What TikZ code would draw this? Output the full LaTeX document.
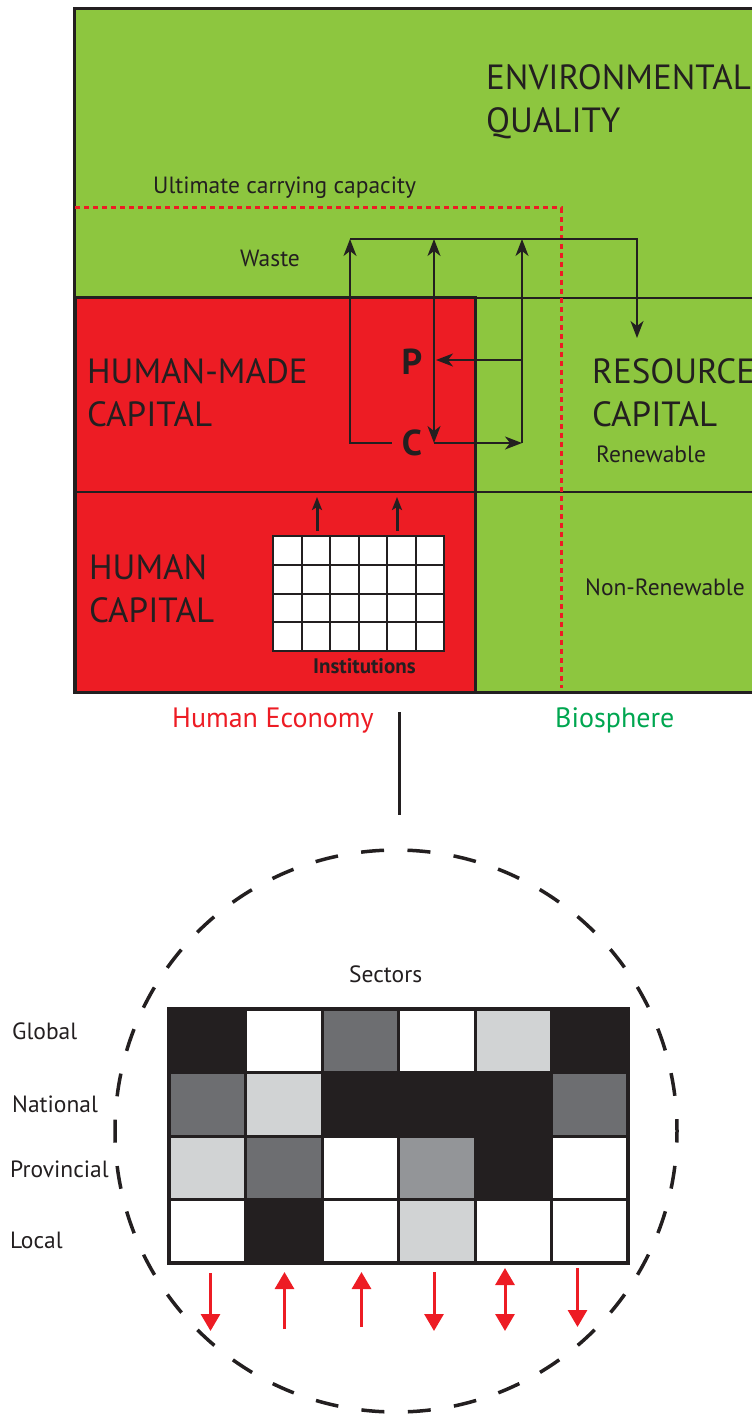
\documentclass[tikz,border=0pt]{standalone}
\usepackage{fontspec}
\setmainfont{PT Sans}
\usetikzlibrary{arrows.meta}
\definecolor{envgreen}{RGB}{141,198,63}
\definecolor{econred}{RGB}{237,28,36}
\definecolor{biogreen}{RGB}{0,166,80}
\definecolor{inkblack}{RGB}{35,31,32}
\definecolor{darkgrey}{RGB}{109,110,113}
\definecolor{midgrey}{RGB}{147,149,152}
\definecolor{lightgrey}{RGB}{209,211,212}
\tikzset{
  bigtext/.style={anchor=north west,inner sep=0pt,align=left,text=inkblack,font=\fontsize{35}{43}\selectfont},
  smalltext/.style={anchor=base west,inner sep=0pt,text=inkblack,font=\fontsize{23.5}{27}\selectfont},
  pctext/.style={inner sep=0pt,text=inkblack,font=\bfseries\fontsize{36}{36}\selectfont},
  flow/.style={draw=inkblack,line width=1.6pt,-{Stealth[length=17pt,width=13pt,inset=5pt]}},
  redarrow/.style={draw=econred,line width=3pt,-{Triangle[length=17pt,width=19pt]}}
}
\begin{document}
\begin{tikzpicture}[x=1pt,y=-1pt]
\useasboundingbox (0,0) rectangle (752,1414);
% environment and human economy
\fill[envgreen] (74,8) rectangle (760,692);
\draw[inkblack,line width=3pt] (760,8) -- (74,8) -- (74,692) -- (760,692);
\fill[econred] (75,297) rectangle (475,692);
\draw[inkblack,line width=3pt] (75,297) rectangle (475,692);
\draw[inkblack,line width=1.5pt] (475,298) -- (760,298);
\draw[inkblack,line width=2pt] (75,492) -- (760,492);
\draw[econred,line width=3pt,dash pattern=on 5pt off 4pt] (75,207.5) -- (561,207.5) -- (561,688);
\node[bigtext] (envq) at (486,64) {ENVIRONMENTAL\\QUALITY};
\node[bigtext] (hmcap) at (87,358) {HUMAN-MADE\\CAPITAL};
\node[bigtext] (hcap) at (89,554) {HUMAN\\CAPITAL};
\node[bigtext] (rescap) at (592,358) {RESOURCE\\CAPITAL};
\node[smalltext] (ucc) at (153,193) {Ultimate carrying capacity};
\node[smalltext] (waste) at (240,266) {Waste};
\node[smalltext] (renew) at (596,462) {Renewable};
\node[smalltext] (nonrenew) at (585,595) {Non-Renewable};
% production and consumption loop
\node[pctext] (P) at (412,362) {P};
\node[pctext] (C) at (412,443) {C};
\coordinate (w1) at (350,239);
\coordinate (w2) at (434,239);
\coordinate (w3) at (522,239);
\coordinate (w4) at (637,239);
\coordinate (r1) at (637,338);
\coordinate (c1) at (350,443);
\coordinate (c2) at (434,443);
\coordinate (c3) at (522,443);
\coordinate (p2) at (436,360);
\coordinate (p3) at (522,360);
\draw[flow] (w1) -- (w4) -- (r1);
\draw[flow,shorten <=10pt] (C.west) -- (c1) -- (w1);
\draw[flow,{Stealth[length=17pt,width=13pt,inset=5pt]}-{Stealth[length=17pt,width=13pt,inset=5pt]}] (c2) -- (w2);
\draw[flow] (c2) -- (c3);
\draw[flow] (c3) -- (w3);
\draw[flow] (p3) -- (p2);
% institutions
\foreach \i in {0,...,5}
  \foreach \j in {0,...,3}
    \draw[inkblack,fill=white,line width=2pt] ({273+\i*28.5},{536+\j*28.75}) rectangle ++(28.5,28.75);
\coordinate (i1) at (317,531);
\coordinate (i1t) at (317,497);
\coordinate (i2) at (397,531);
\coordinate (i2t) at (397,497);
\draw[inkblack,line width=3pt,-{Stealth[length=13pt,width=10pt,inset=3pt]}] (i1) -- (i1t);
\draw[inkblack,line width=3pt,-{Stealth[length=13pt,width=10pt,inset=3pt]}] (i2) -- (i2t);
\node[smalltext,font=\bfseries\fontsize{21}{24}\selectfont] (inst) at (313,673) {Institutions};
\node[smalltext,text=econred,font=\fontsize{28}{32}\selectfont] (econ) at (172,727) {Human Economy};
\node[smalltext,text=biogreen,font=\fontsize{28}{32}\selectfont] (bio) at (555,727) {Biosphere};
\coordinate (lk1) at (399,712);
\coordinate (lk2) at (399,815);
\draw[inkblack,line width=3pt] (lk1) -- (lk2);
% sectors
\draw[inkblack,line width=3.5pt,dash pattern=on 23pt off 23.46pt,dash phase=11.5pt] (396,1131) circle (281);
\node[smalltext] (sectors) at (349,982) {Sectors};
\fill[inkblack] (169,1009) rectangle (628,1263);
\foreach \row [count=\r from 0] in {{inkblack,white,darkgrey,white,lightgrey,inkblack},
    {darkgrey,lightgrey,inkblack,inkblack,inkblack,darkgrey},
    {lightgrey,darkgrey,white,midgrey,inkblack,white},
    {white,inkblack,white,lightgrey,white,white}}
  \foreach \col [count=\k from 0] in \row
    \fill[\col] ({169+\k*76.5+1.5},{1009+\r*63.5+1.5}) rectangle ++(73.5,60.5);
\draw[inkblack,line width=4pt] (169,1009) rectangle (628,1263);
\node[smalltext] (global) at (12,1039) {Global};
\node[smalltext] (national) at (12,1112) {National};
\node[smalltext] (provincial) at (10,1177) {Provincial};
\node[smalltext] (local) at (10,1248) {Local};
\coordinate (a1) at (210.5,1273); \coordinate (b1) at (210.5,1331);
\coordinate (a2) at (284.5,1272); \coordinate (b2) at (284.5,1329);
\coordinate (a3) at (361.5,1272); \coordinate (b3) at (361.5,1327);
\coordinate (a4) at (434,1272);   \coordinate (b4) at (434,1331);
\coordinate (a5) at (505,1268);   \coordinate (b5) at (505,1331);
\coordinate (a6) at (577.5,1268); \coordinate (b6) at (577.5,1327);
\draw[redarrow] (a1) -- (b1);
\draw[redarrow] (b2) -- (a2);
\draw[redarrow] (b3) -- (a3);
\draw[redarrow] (a4) -- (b4);
\draw[redarrow,{Triangle[length=17pt,width=19pt]}-{Triangle[length=17pt,width=19pt]}] (a5) -- (b5);
\draw[redarrow] (a6) -- (b6);
\end{tikzpicture}
\end{document}
